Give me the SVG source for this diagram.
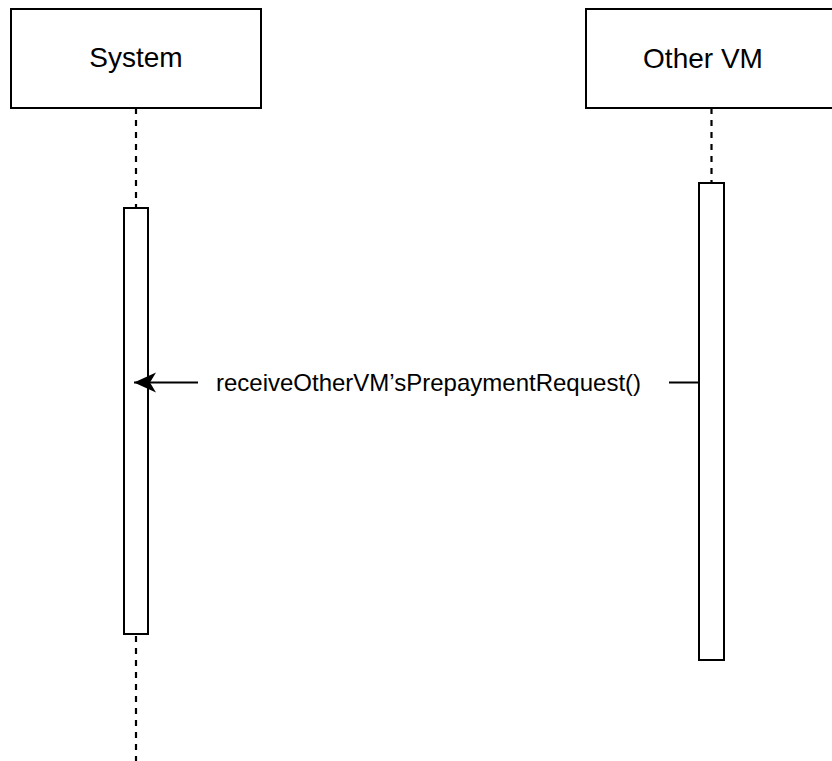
<svg xmlns="http://www.w3.org/2000/svg" width="832" height="761" viewBox="0 0 832 761">
  <style>
    .box { fill: #ffffff; stroke: #000000; stroke-width: 2; }
    .life { stroke: #000000; stroke-width: 2.2; stroke-dasharray: 6 6; fill: none; }
    .title { font-family: "Liberation Sans", Arial, sans-serif; font-size: 28px; fill: #000000; text-anchor: middle; }
    .msg { font-family: "Liberation Sans", Arial, sans-serif; font-size: 24px; fill: #000000; text-anchor: middle; }
    .line { stroke: #000000; stroke-width: 2; fill: none; }
  </style>
  <defs>
    <marker id="arrow" viewBox="0 0 24 24" refX="22" refY="12" markerWidth="24" markerHeight="24" markerUnits="userSpaceOnUse" orient="auto">
      <path d="M22,12 L0,2 L6,12 L0,22 Z" fill="#000000"/>
    </marker>
  </defs>
  <rect width="832" height="761" fill="#ffffff"/>

  <g id="system">
    <rect class="box" x="11" y="9" width="250" height="99"/>
    <text class="title" x="136" y="67">System</text>
    <line class="life" x1="136" y1="108" x2="136" y2="761"/>
    <rect class="box" x="124" y="208" width="24" height="426"/>
  </g>

  <g id="othervm">
    <rect class="box" x="586" y="9" width="250" height="99"/>
    <text class="title" x="703" y="68">Other VM</text>
    <line class="life" x1="711.5" y1="108" x2="711.5" y2="183"/>
    <rect class="box" x="699" y="183" width="25" height="477"/>
  </g>

  <g id="connectors">
    <line class="line" x1="699" y1="382.5" x2="134" y2="382.5" marker-end="url(#arrow)"/>
    <rect x="198" y="368" width="471" height="30" fill="#ffffff"/>
    <text class="msg" x="428.5" y="391">receiveOtherVM’sPrepaymentRequest()</text>
  </g>
</svg>
